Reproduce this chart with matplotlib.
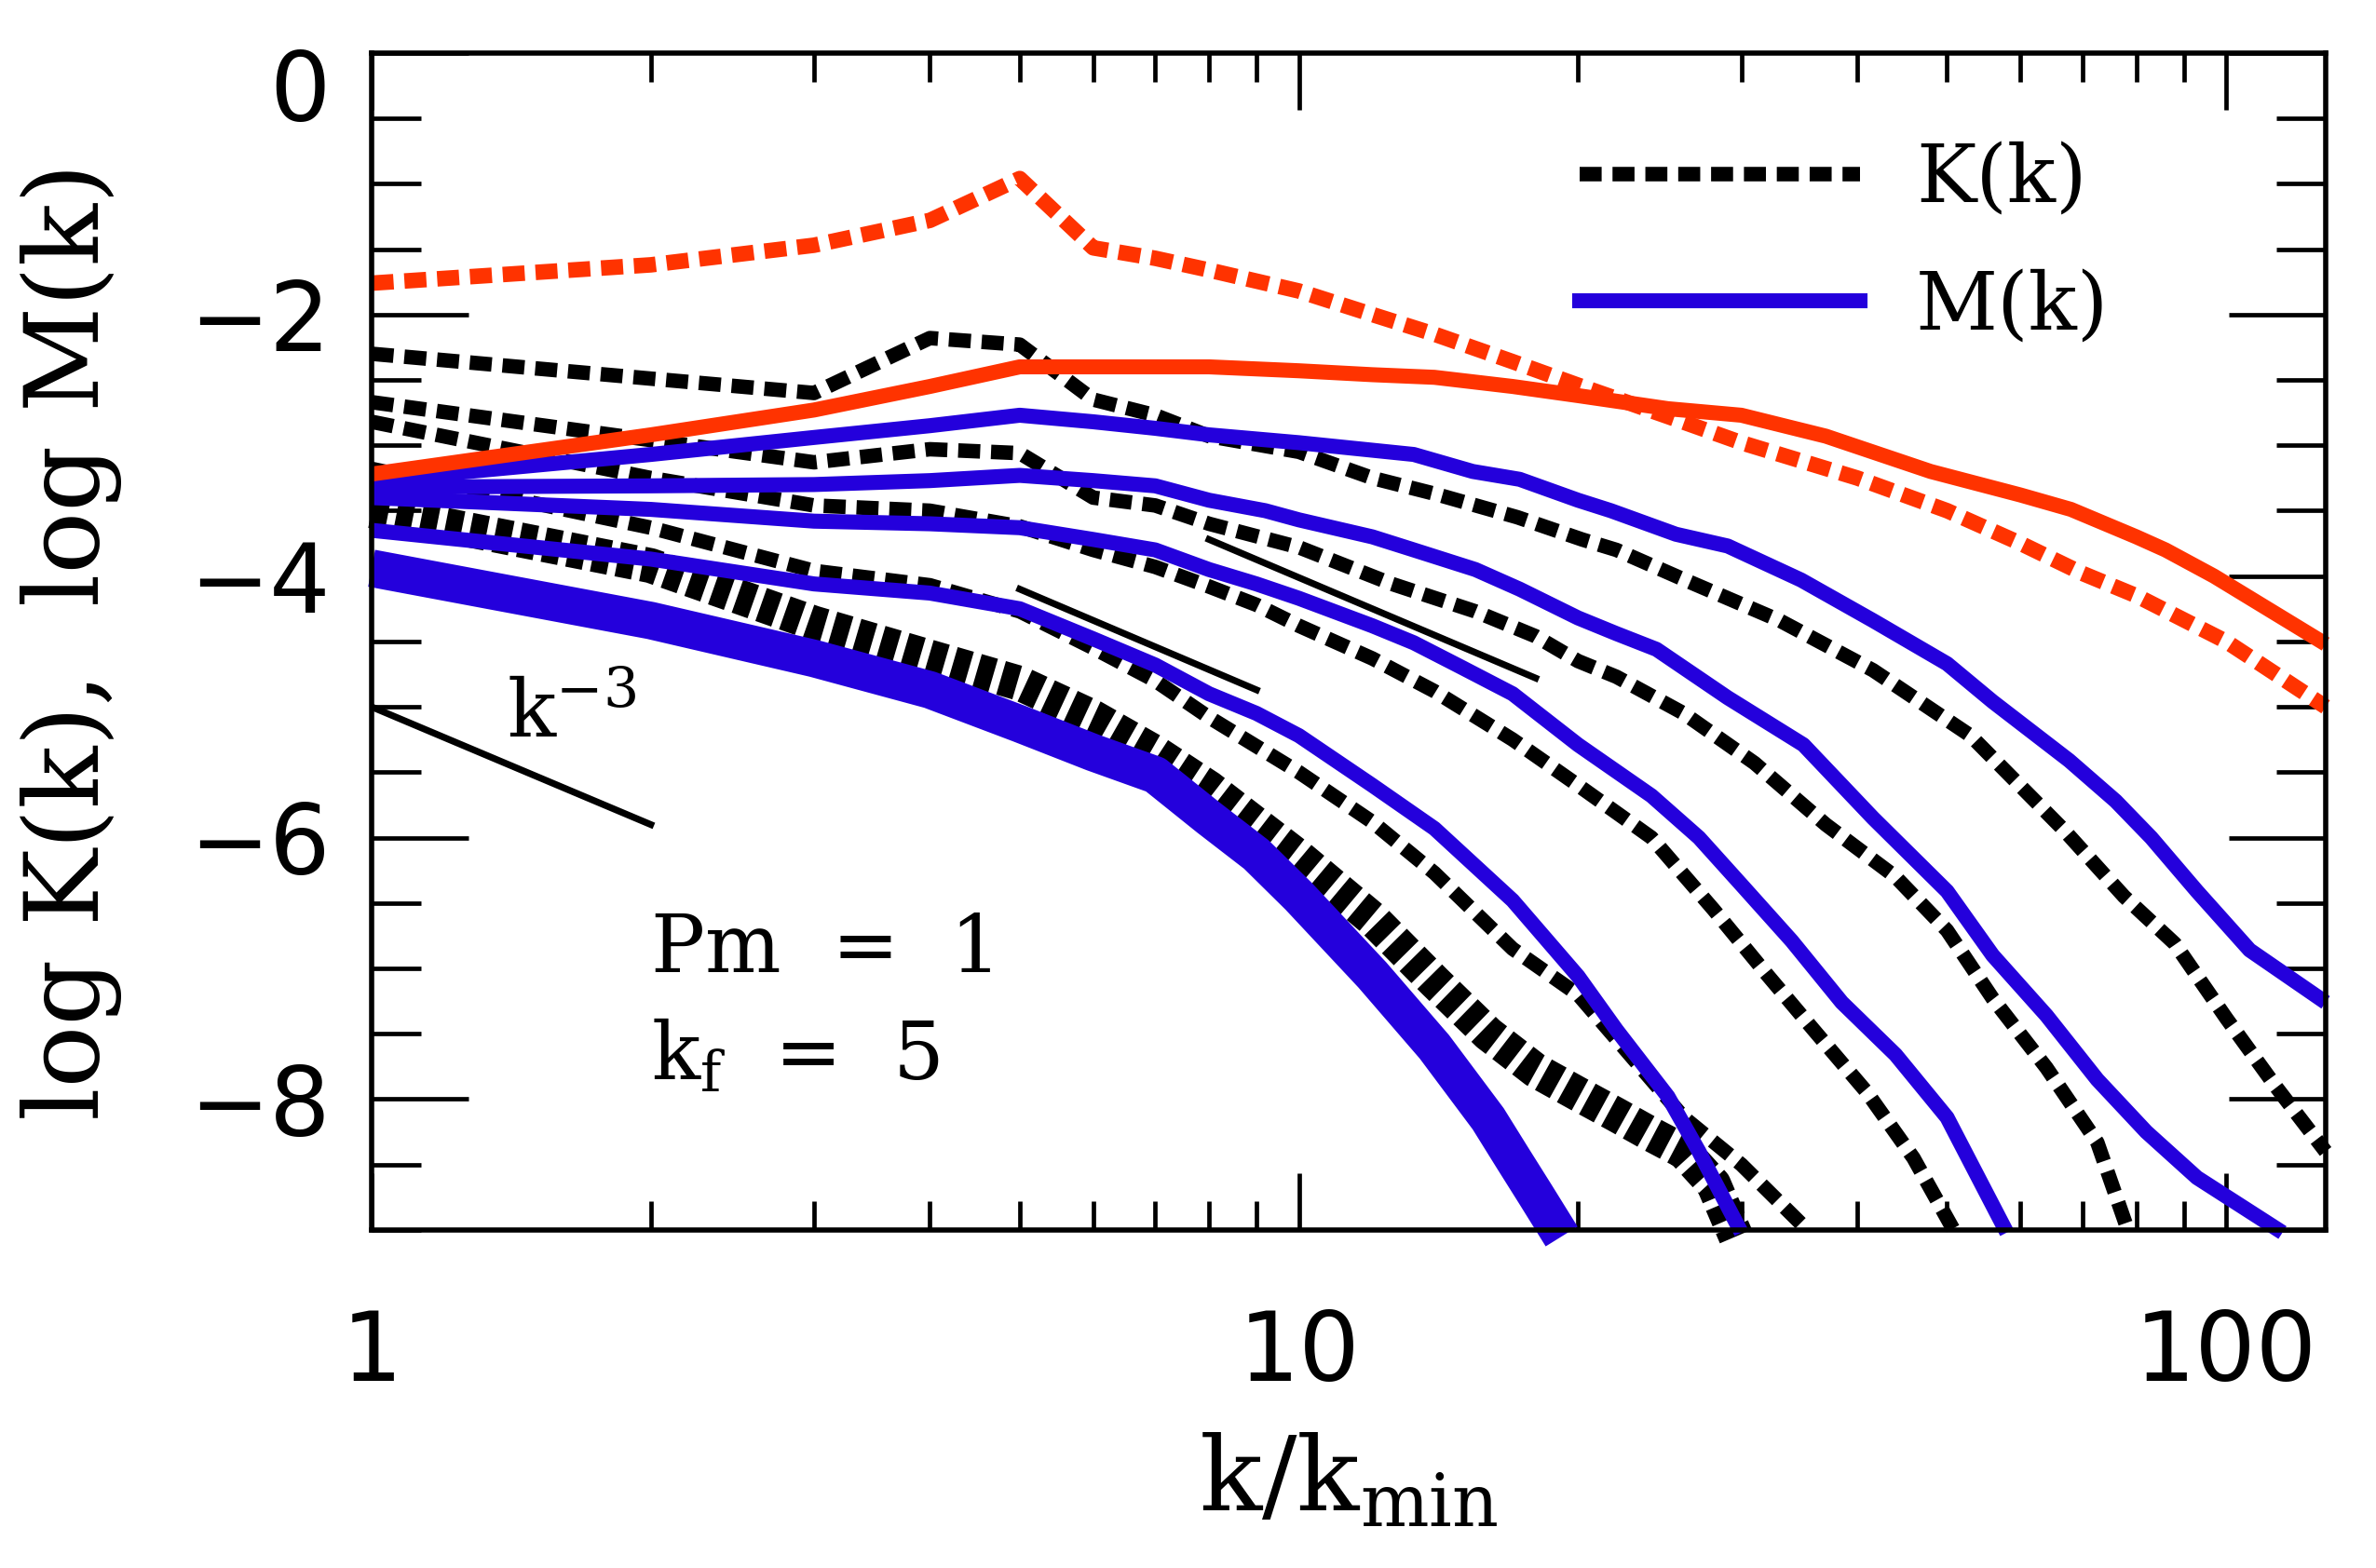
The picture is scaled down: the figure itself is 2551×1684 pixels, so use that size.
import matplotlib
matplotlib.use("Agg")
import matplotlib.pyplot as plt
from matplotlib.lines import Line2D
from matplotlib.ticker import MultipleLocator, LogLocator, NullFormatter
from matplotlib.transforms import ScaledTranslation

plt.rcParams['font.family'] = ['DejaVu Serif']
plt.rcParams['mathtext.fontset'] = 'dejavuserif'
plt.rcParams['lines.scale_dashes'] = False   # dash lengths in points, like IDL

RED = '#ff3300'
BLUE = '#2400dc'

# ---- spectra (k/kmin, log value) ----
# thick pair (earliest)
kT_k = [1, 2, 3, 4, 5, 6, 7, 8, 9, 10, 12, 14, 16, 18, 20, 22, 24, 26, 28, 29.6]
kT_v = [-3.5, -3.92, -4.36, -4.62, -4.82, -5.08, -5.35, -5.62, -5.9, -6.15,
        -6.62, -7.1, -7.5, -7.78, -7.96, -8.12, -8.27, -8.4, -8.65, -9.05]
mT_k = [1, 2, 3, 4, 5, 6, 7, 8, 9, 10, 12, 14, 16, 17, 18, 19.2]
mT_v = [-3.94, -4.34, -4.63, -4.87, -5.13, -5.35, -5.52, -5.85, -6.13, -6.45,
        -7.05, -7.6, -8.15, -8.45, -8.73, -9.05]

kD_k = [1, 2, 3, 4, 5, 6, 7, 8, 10, 12, 14, 17, 20, 23, 26, 30, 35]
kD_v = [-3.18, -3.63, -3.96, -4.07, -4.27, -4.55, -4.8, -5.08, -5.5, -5.88,
        -6.27, -6.85, -7.2, -7.7, -8.14, -8.5, -8.97]
mD_k = [1, 2, 3, 4, 5, 6, 7, 8, 9, 10, 12, 14, 17, 20, 22, 25, 27, 30]
mD_v = [-3.65, -3.87, -4.06, -4.13, -4.25, -4.48, -4.68, -4.9, -5.05, -5.22,
        -5.6, -5.93, -6.48, -7.06, -7.47, -7.98, -8.4, -9.02]

kC_k = [1, 2, 3, 4, 5, 6, 7, 8, 9, 10, 12, 14, 17, 20, 24, 28, 32, 36, 41, 46, 51]
kC_v = [-2.82, -3.25, -3.46, -3.5, -3.62, -3.8, -3.93, -4.08, -4.22, -4.38,
        -4.63, -4.88, -5.25, -5.6, -6.0, -6.55, -7.05, -7.48, -7.95, -8.45, -9.02]
mC_k = [1, 2, 3, 4, 5, 6, 7, 8, 9, 10, 12, 13.3, 15, 17, 20, 24, 27, 30, 34,
        38.5, 44, 50, 58]
mC_v = [-3.4, -3.49, -3.58, -3.6, -3.63, -3.72, -3.8, -3.95, -4.06, -4.17,
        -4.38, -4.51, -4.7, -4.9, -5.29, -5.68, -6.0, -6.36, -6.79, -7.26,
        -7.66, -8.14, -9.02]

kB_k = [1, 2, 3, 4, 5, 6, 7, 8, 10, 12.6, 15.5, 18, 20, 22, 26, 31, 37, 44,
        50, 56, 64, 72.6, 78.5]
kB_v = [-2.67, -2.96, -3.13, -3.03, -3.06, -3.4, -3.46, -3.6, -3.78, -4.06,
        -4.27, -4.46, -4.65, -4.77, -5.05, -5.43, -5.9, -6.3, -6.71, -7.23,
        -7.76, -8.33, -9.02]
mB_k = [1, 2, 3, 4, 5, 6, 7, 8, 9.2, 10, 12, 13.3, 15.5, 17.3, 20, 22, 24.3,
        29, 35, 41.6, 50, 56, 64, 72.6, 82, 93, 115]
mB_v = [-3.32, -3.31, -3.3, -3.27, -3.23, -3.27, -3.31, -3.42, -3.5, -3.57,
        -3.7, -3.8, -3.95, -4.1, -4.32, -4.44, -4.56, -4.93, -5.29, -5.85,
        -6.41, -6.9, -7.36, -7.85, -8.25, -8.6, -9.02]

kA_k = [1, 2, 3, 4, 5, 6, 7, 8, 10, 12, 14, 17.2, 20.2, 22, 25.7, 33, 41.6,
        53, 67, 77.6, 88, 100, 113, 128]
kA_v = [-2.3, -2.49, -2.6, -2.18, -2.23, -2.65, -2.77, -2.93, -3.05, -3.25,
        -3.37, -3.55, -3.72, -3.8, -4.01, -4.34, -4.72, -5.22, -5.95, -6.45,
        -6.81, -7.38, -7.9, -8.4]
mA_k = [1, 2, 3, 4, 5, 6, 7, 8, 10, 13.3, 15.4, 17.3, 20, 21.7, 25.5, 29,
        34.8, 41.6, 50, 56, 67.7, 76, 83, 93, 106, 128]
mA_v = [-3.27, -3.07, -2.94, -2.85, -2.77, -2.82, -2.87, -2.92, -2.98, -3.07,
        -3.2, -3.26, -3.42, -3.5, -3.68, -3.77, -4.03, -4.34, -4.67, -4.96,
        -5.41, -5.72, -6.0, -6.41, -6.86, -7.26]

# latest snapshot (red)
kR_k = [1, 2, 3, 4, 5, 6, 7, 8, 10, 12, 14, 17, 20, 25, 30, 40, 50, 60, 70,
        80, 100, 128]
kR_v = [-1.76, -1.62, -1.47, -1.28, -0.96, -1.49, -1.57, -1.66, -1.82, -2.0,
        -2.15, -2.36, -2.54, -2.78, -2.98, -3.25, -3.5, -3.75, -3.98, -4.15,
        -4.5, -5.0]
mR_k = [1, 2, 3, 4, 5, 6, 7, 8, 10, 12, 14, 17, 20, 25, 30, 37, 48, 60, 68,
        80, 86, 97, 128]
mR_v = [-3.22, -2.92, -2.73, -2.55, -2.4, -2.4, -2.4, -2.4, -2.43, -2.46,
        -2.48, -2.55, -2.62, -2.72, -2.77, -2.93, -3.2, -3.38, -3.49, -3.7,
        -3.8, -4.0, -4.52]

# k^-3 guide segments
guide_k = [[1, 2], [5, 9], [8, 18]]
guide_v = [[-5.0, -5.9], [-4.1, -4.87], [-3.72, -4.78]]

fig = plt.figure(figsize=(12.755, 8.42), dpi=200)
ax = fig.add_axes([0.1564, 0.2156, 0.8224, 0.7506])

dot = dict(color='k', lw=5.6, dashes=(8.5, 4.2), clip_on=False)
ax.plot(kT_k, kT_v, color='k', lw=13.5, dashes=(6.5, 3.2), clip_on=False)
for kk, vv in [(kD_k, kD_v), (kC_k, kC_v), (kB_k, kB_v), (kA_k, kA_v)]:
    ax.plot(kk, vv, **dot)

ax.plot(mT_k, mT_v, color=BLUE, lw=14.5, solid_capstyle='butt', clip_on=False)
for kk, vv in [(mD_k, mD_v), (mC_k, mC_v), (mB_k, mB_v), (mA_k, mA_v)]:
    ax.plot(kk, vv, color=BLUE, lw=5.8, solid_capstyle='butt', clip_on=False)

ax.plot(kR_k, kR_v, color=RED, lw=6, dashes=(8.5, 4.2), clip_on=False)
ax.plot(mR_k, mR_v, color=RED, lw=5.8, solid_capstyle='butt', clip_on=False)

for kk, vv in zip(guide_k, guide_v):
    ax.plot(kk, vv, color='k', lw=2.6)

ax.set_xscale('log')
ax.set_xlim(1, 128)
ax.set_ylim(-9, 0)

ax.set_xticks([1, 10, 100])
ax.set_xticklabels(['1', '10', '100'])
ax.xaxis.set_minor_locator(LogLocator(base=10, subs=range(2, 10)))
ax.xaxis.set_minor_formatter(NullFormatter())
ax.set_yticks([-8, -6, -4, -2, 0])
ax.yaxis.set_minor_locator(MultipleLocator(0.5))

for s in ax.spines.values():
    s.set_linewidth(2.0)
ax.tick_params(which='both', direction='in', top=True, right=True, width=1.7,
               labelsize=37, labelfontfamily='DejaVu Sans')
ax.tick_params(axis='x', which='major', length=22, pad=30)
ax.tick_params(axis='x', which='minor', length=11)
ax.tick_params(axis='y', which='major', length=37.5, pad=16)
ax.tick_params(axis='y', which='minor', length=19)

# the "0" label sits a little below its tick in the original
top_lbl = ax.get_yticklabels()[-1]
top_lbl.set_transform(top_lbl.get_transform() +
                      ScaledTranslation(0, -12 / 72, fig.dpi_scale_trans))

ax.set_xlabel(r'$\mathrm{k/k_{min}}$', fontsize=40, labelpad=12)
ax.set_ylabel('log K(k),  log M(k)', fontsize=40, labelpad=26)

ax.text(1.40, -5.23, r'$\mathrm{k^{-3}}$', fontsize=31, ha='left', va='baseline')
ax.text(2.0, -7.03, 'Pm  =  1', fontsize=31, ha='left', va='baseline')
ax.text(2.0, -7.85, r'k$_\mathrm{f}$  =  5', fontsize=31, ha='left', va='baseline')

h1 = Line2D([], [], color='k', lw=5.6, dashes=(8.5, 4.2))
h2 = Line2D([], [], color=BLUE, lw=5.8)
ax.legend([h1, h2], ['K(k)', 'M(k)'], loc='upper left',
          bbox_to_anchor=(0.618, 0.925), frameon=False, fontsize=31,
          handlelength=3.5, handletextpad=0.7, labelspacing=0.62,
          borderpad=0, borderaxespad=0)

fig.savefig('out.png', dpi=200)
